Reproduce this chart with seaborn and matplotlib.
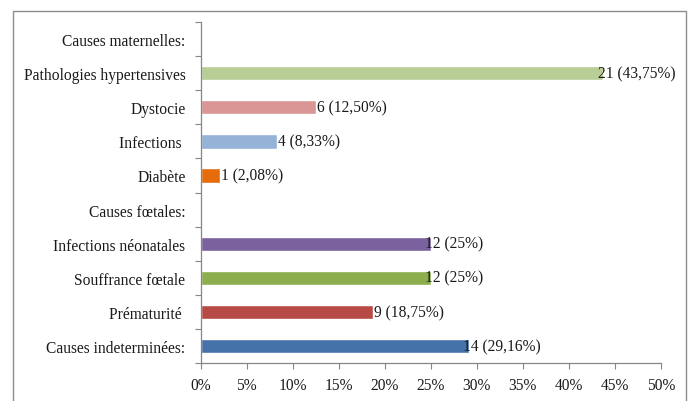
import matplotlib
matplotlib.use("Agg")
import matplotlib.pyplot as plt
import matplotlib.patches as mpatches
from matplotlib.ticker import FuncFormatter, MultipleLocator
import pandas as pd
import seaborn as sns

# Data
categories = [
    "Causes maternelles:",
    "Pathologies hypertensives",
    "Dystocie",
    "Infections ",
    "Diabète",
    "Causes fœtales:",
    "Infections néonatales",
    "Souffrance fœtale",
    "Prématurité ",
    "Causes indeterminées:",
]
percents = [0, 43.75, 12.50, 8.33, 2.08, 0, 25, 25, 18.75, 29.16]
labels = ["", "21 (43,75%)", "6 (12,50%)", "4 (8,33%)", "1 (2,08%)",
          "", "12 (25%)", "12 (25%)", "9 (18,75%)", "14 (29,16%)"]
colors = ["#FFFFFF", "#B9CD96", "#D99694", "#95B3D7", "#E46C0A",
          "#FFFFFF", "#7A629E", "#8DAE4F", "#B84A45", "#4672AA"]

FS = 11.2

sns.set_style("white")
plt.rcParams["font.family"] = ["Liberation Serif", "DejaVu Serif"]

df = pd.DataFrame({"cause": categories, "pct": percents})

fig = plt.figure(figsize=(6.97, 4.02), dpi=100)
ax = fig.add_axes([0.288, 0.094, 0.66, 0.849])

sns.barplot(df, y="cause", x="pct", hue="cause", palette=colors,
            orient="h", width=0.42, legend=False, saturation=1, ax=ax)

# value labels sit right at the bar end (two-digit counts overlap a bit, as in Excel)
for i, (p, lab) in enumerate(zip(percents, labels)):
    if lab:
        shift = -0.6 if lab.split()[0].__len__() > 1 else 0.1
        ax.text(p + shift, i, lab, va="center", ha="left", fontsize=FS,
                color="#1a1a1a")

ax.set_xlim(0, 50)
ax.set_ylim(len(categories) - 0.5, -0.5)
ax.xaxis.set_major_locator(MultipleLocator(5))
ax.xaxis.set_major_formatter(FuncFormatter(lambda v, _: f"{v:.0f}%"))

# Excel-like tick marks between categories
ax.set_yticks(range(len(categories)))
ax.set_yticks([i - 0.5 for i in range(len(categories) + 1)], minor=True)
ax.tick_params(axis="y", which="major", length=0, pad=11, labelsize=FS,
               labelcolor="#1a1a1a")
ax.tick_params(axis="y", which="minor", length=4, width=0.8,
               color="#868686", left=True, direction="out")
ax.tick_params(axis="x", which="major", length=4, width=0.8,
               color="#868686", bottom=True, direction="out",
               labelsize=FS, labelcolor="#1a1a1a", pad=6)
ax.set_xlabel("")
ax.set_ylabel("")

for side in ["top", "right"]:
    ax.spines[side].set_visible(False)
for side in ["left", "bottom"]:
    ax.spines[side].set_color("#868686")
    ax.spines[side].set_linewidth(0.9)

# outer chart frame
frame = mpatches.Rectangle((13 / 697, -0.02), 673 / 697, 1.005 - 6 / 402,
                           transform=fig.transFigure, fill=False,
                           edgecolor="#8c8c8c", linewidth=1.0)
fig.patches.append(frame)

fig.savefig("out.png", dpi=100)
